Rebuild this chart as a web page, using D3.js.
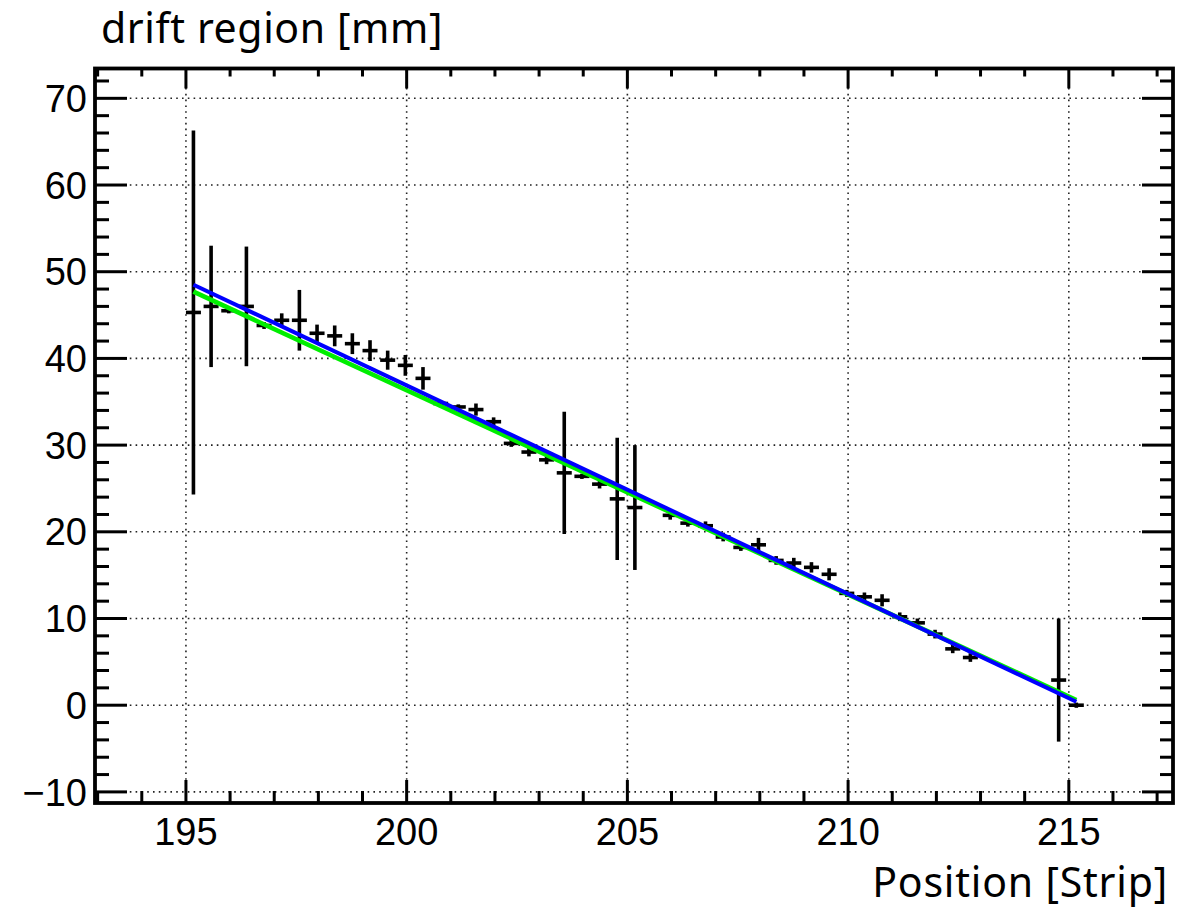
<!DOCTYPE html>
<html>
<head>
<meta charset="utf-8">
<script src="https://cdn.jsdelivr.net/npm/d3@7"></script>
<style>
  html, body { margin: 0; padding: 0; background: #fff; }
  svg { display: block; }
</style>
</head>
<body>
<svg id="chart" width="1198" height="908"></svg>
<script>
// ---- data ----
const positions = [195.17, 195.57, 195.97, 196.37, 196.77, 197.17, 197.57, 197.97, 198.37, 198.77,
  199.17, 199.57, 199.97, 200.37, 200.77, 201.17, 201.57, 201.97, 202.37, 202.77,
  203.17, 203.57, 203.97, 204.37, 204.77, 205.17, 205.97, 206.37, 206.77, 207.17,
  207.57, 207.97, 208.37, 208.77, 209.17, 209.57, 209.97, 210.37, 210.77, 211.17,
  211.57, 211.97, 212.37, 212.77, 214.77, 215.17];
const drift = [45.3, 46.0, 45.5, 46.0, 43.8, 44.4, 44.4, 42.9, 42.6, 41.7,
  40.9, 39.8, 39.2, 37.7, 34.8, 34.4, 34.1, 32.7, 30.2, 29.2,
  28.3, 26.8, 26.4, 25.5, 23.8, 22.8, 21.9, 21.0, 20.7, 19.4,
  18.2, 18.5, 16.7, 16.4, 15.9, 15.1, 12.9, 12.5, 12.1, 10.2,
  9.5, 8.2, 6.5, 5.5, 2.9, 0.0];
const driftErr = [21.0, 7.0, 0.3, 6.9, 0.4, 0.8, 3.5, 1.0, 1.2, 1.2,
  1.2, 1.1, 1.2, 1.3, 0.3, 0.3, 0.7, 0.5, 0.4, 0.5,
  0.5, 7.05, 0.3, 0.5, 7.05, 7.2, 0.5, 0.4, 0.5, 0.5,
  0.4, 0.8, 0.5, 0.6, 0.6, 0.7, 0.4, 0.5, 0.7, 0.5,
  0.5, 0.5, 0.5, 0.5, 7.1, 0.3];
const posErr = 0.17;

// fits: straight lines, endpoints
const fitNames = ["fitGreen", "fitBlue"];
const fitColors = ["#00ee00", "#0000ff"];
const fitX = [[195.17, 215.17], [195.17, 215.17]];
const fitY = [[47.7, 0.6], [48.5, 0.4]];

const xMajorTicks = [195, 200, 205, 210, 215];
const xMinorTicks = [193, 194, 196, 197, 198, 199, 201, 202, 203, 204, 206, 207, 208, 209, 211, 212, 213, 214, 216, 217];
const yMajorTicks = [-10, 0, 10, 20, 30, 40, 50, 60, 70];
const yMinorTicks = [-8, -6, -4, -2, 2, 4, 6, 8, 12, 14, 16, 18, 22, 24, 26, 28, 32, 34, 36, 38,
  42, 44, 46, 48, 52, 54, 56, 58, 62, 64, 66, 68, 72];
const yTickLabels = ["\u221210", "0", "10", "20", "30", "40", "50", "60", "70"];
const xTitle = "Position [Strip]";
const yTitle = "drift region [mm]";

// ---- layout ----
const L = 95, R = 1173, T = 68.5, B = 803;
const x = d3.scaleLinear().domain([192.94, 217.36]).range([L, R]);
const y = d3.scaleLinear().domain([-11.28, 73.44]).range([B, T]);

const svg = d3.select("#chart");

// grid
const grid = svg.append("g").attr("stroke", "#222").attr("stroke-width", 1.6)
  .attr("stroke-dasharray", "1.6,4.2");
grid.selectAll("line.gx").data(xMajorTicks).join("line")
  .attr("x1", d => x(d)).attr("x2", d => x(d)).attr("y1", B).attr("y2", T);
grid.selectAll("line.gy").data(yMajorTicks).join("line")
  .attr("y1", d => y(d)).attr("y2", d => y(d)).attr("x1", L).attr("x2", R);

// data points with error bars
const pts = positions.map((p, i) => ({ x: p, y: drift[i], e: driftErr[i] }));
const pg = svg.append("g").attr("stroke", "#000").attr("stroke-width", 3.6);
pg.selectAll("line.v").data(pts).join("line")
  .attr("x1", d => x(d.x)).attr("x2", d => x(d.x))
  .attr("y1", d => y(d.y - d.e)).attr("y2", d => y(d.y + d.e));
pg.selectAll("line.h").data(pts).join("line")
  .attr("x1", d => x(d.x - posErr)).attr("x2", d => x(d.x + posErr))
  .attr("y1", d => y(d.y)).attr("y2", d => y(d.y));

// fit lines
const line = d3.line().x(d => x(d[0])).y(d => y(d[1]));
fitNames.forEach((n, i) => {
  svg.append("path").attr("class", n)
    .attr("d", line(fitX[i].map((v, j) => [v, fitY[i][j]])))
    .attr("fill", "none").attr("stroke", fitColors[i]).attr("stroke-width", i === 0 ? 4.6 : 4);
});

// axes ticks (inward)
const tk = svg.append("g").attr("stroke", "#000").attr("stroke-width", 3);
tk.selectAll("line.bM").data(xMajorTicks).join("line")
  .attr("x1", d => x(d)).attr("x2", d => x(d)).attr("y1", B).attr("y2", B - 23);
const tk2 = svg.append("g").attr("stroke", "#000").attr("stroke-width", 3);
tk2.selectAll("line").data(xMinorTicks).join("line")
  .attr("x1", d => x(d)).attr("x2", d => x(d)).attr("y1", B).attr("y2", B - 12);
const tt = svg.append("g").attr("stroke", "#000").attr("stroke-width", 3);
tt.selectAll("line").data(xMajorTicks).join("line")
  .attr("x1", d => x(d)).attr("x2", d => x(d)).attr("y1", T).attr("y2", T + 20);
const tt2 = svg.append("g").attr("stroke", "#000").attr("stroke-width", 3);
tt2.selectAll("line").data(xMinorTicks).join("line")
  .attr("x1", d => x(d)).attr("x2", d => x(d)).attr("y1", T).attr("y2", T + 8);
const tl = svg.append("g").attr("stroke", "#000").attr("stroke-width", 3);
tl.selectAll("line").data(yMajorTicks).join("line")
  .attr("x1", L).attr("x2", L + 32).attr("y1", d => y(d)).attr("y2", d => y(d));
const tl2 = svg.append("g").attr("stroke", "#000").attr("stroke-width", 3);
tl2.selectAll("line").data(yMinorTicks).join("line")
  .attr("x1", L).attr("x2", L + 14).attr("y1", d => y(d)).attr("y2", d => y(d));
const tr = svg.append("g").attr("stroke", "#000").attr("stroke-width", 3);
tr.selectAll("line").data(yMajorTicks).join("line")
  .attr("x1", R).attr("x2", R - 31).attr("y1", d => y(d)).attr("y2", d => y(d));
const tr2 = svg.append("g").attr("stroke", "#000").attr("stroke-width", 3);
tr2.selectAll("line").data(yMinorTicks).join("line")
  .attr("x1", R).attr("x2", R - 13).attr("y1", d => y(d)).attr("y2", d => y(d));

// frame
svg.append("rect").attr("x", L).attr("y", T).attr("width", R - L).attr("height", B - T)
  .attr("fill", "none").attr("stroke", "#000").attr("stroke-width", 3.8);

// tick labels
svg.append("g").selectAll("text").data(xMajorTicks).join("text")
  .attr("x", d => x(d)).attr("y", 845)
  .attr("text-anchor", "middle")
  .attr("font-family", "'Liberation Sans', Arial, sans-serif").attr("font-size", 38)
  .attr("fill", "#000").text(d => d);
svg.append("g").selectAll("text").data(yMajorTicks).join("text")
  .attr("x", 87).attr("y", d => y(d)).attr("dy", "0.36em")
  .attr("text-anchor", "end")
  .attr("font-family", "'Liberation Sans', Arial, sans-serif").attr("font-size", 38)
  .attr("fill", "#000").text((d, i) => yTickLabels[i]);

// titles
svg.append("text").attr("x", 101).attr("y", 43)
  .attr("font-family", "'Noto Sans', 'Open Sans', sans-serif").attr("font-size", 41)
  .attr("letter-spacing", 0.6)
  .attr("fill", "#000").text(yTitle);
svg.append("text").attr("x", 1168).attr("y", 897).attr("text-anchor", "end")
  .attr("font-family", "'Noto Sans', 'Open Sans', sans-serif").attr("font-size", 41)
  .attr("letter-spacing", 0.8)
  .attr("fill", "#000").text(xTitle);
</script>
</body>
</html>
